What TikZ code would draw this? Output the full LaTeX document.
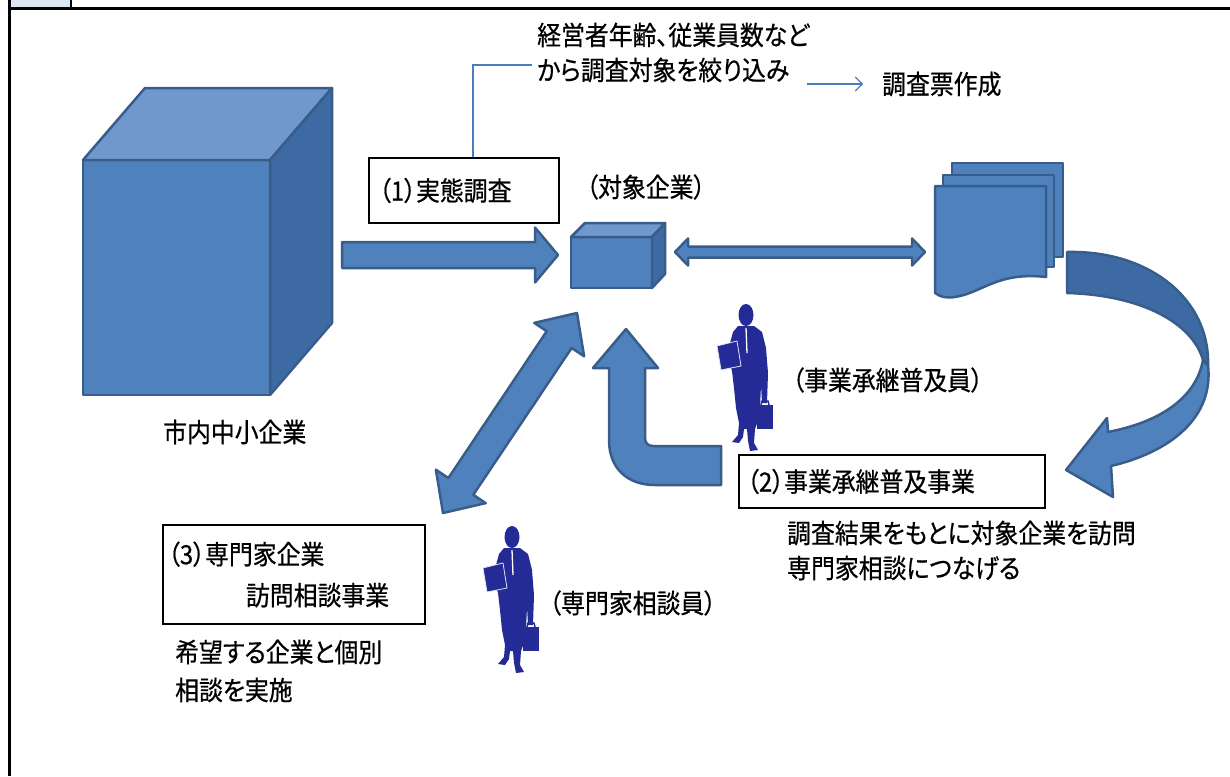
\documentclass[tikz,border=0pt]{standalone}
\usepackage{fontspec}
\usetikzlibrary{calc,positioning,arrows.meta}
\newfontfamily\jpfont[RawFeature=+palt,FakeStretch=0.9,FakeBold=0.6]{Noto Sans CJK JP}
\definecolor{boxblue}{RGB}{79,129,189}
\definecolor{edgeblue}{RGB}{56,93,138}
\definecolor{topblue}{RGB}{112,152,206}
\definecolor{sideblue}{RGB}{62,106,163}
\definecolor{manblue}{RGB}{36,42,150}
\definecolor{tabblue}{RGB}{220,230,242}
\definecolor{lineblue}{RGB}{74,126,187}

% block arrow: start, tip, half shaft, half head, head length
\newcommand{\fatarrow}[5]{%
  \coordinate (fa-b) at ($(#2)!#5!(#1)$);
  \filldraw[blockarrow] ($(#1)!#3!90:(#2)$) -- ($(fa-b)!#3!90:(#2)$)
    -- ($(fa-b)!#4!90:(#2)$) -- (#2) -- ($(fa-b)!#4!-90:(#2)$)
    -- ($(fa-b)!#3!-90:(#2)$) -- ($(#1)!#3!-90:(#2)$) -- cycle;
}
% block arrow with two heads
\newcommand{\fatdarrow}[5]{%
  \coordinate (fa-a) at ($(#1)!#5!(#2)$);
  \coordinate (fa-b) at ($(#2)!#5!(#1)$);
  \filldraw[blockarrow] (#1) -- ($(fa-a)!#4!90:(#2)$) -- ($(fa-a)!#3!90:(#2)$)
    -- ($(fa-b)!#3!-90:(#1)$) -- ($(fa-b)!#4!-90:(#1)$) -- (#2)
    -- ($(fa-b)!#4!90:(#1)$) -- ($(fa-b)!#3!90:(#1)$)
    -- ($(fa-a)!#3!-90:(#2)$) -- ($(fa-a)!#4!-90:(#2)$) -- cycle;
}

\begin{document}
\begin{tikzpicture}[x=1pt,y=-1pt,
    blockarrow/.style={fill=boxblue,draw=edgeblue,line width=2.5pt,line join=round},
    face/.style={draw=edgeblue,line width=2.5pt,line join=round},
    jtext/.style={font=\jpfont\fontsize{26.5}{35}\selectfont,inner sep=0pt,anchor=west,align=left},
    tagbox/.style={draw=black,line width=1.3pt,fill=white,inner ysep=0pt,align=left,
      font=\jpfont\fontsize{26.5}{41}\selectfont},
    man/.pic={
      \fill[manblue] (29,12) ellipse (7.5 and 11);
      \fill[manblue] (21,23) -- (37,23) -- (45,29) -- (49,45) -- (51,70) -- (50,100)
        -- (45,100) -- (44,82) -- (43,105) -- (41,118) -- (38,126) -- (37,140)
        -- (41,147) -- (33,148) -- (31,138) -- (30,126) -- (27,126) -- (26,134)
        -- (22,140) -- (15,139) -- (21,132) -- (22,120) -- (19,105) -- (17,85)
        -- (15,68) -- (12,58) -- (13,40) -- (16,29) -- cycle;
      \draw[white,line width=1.3pt] (29,25) -- (30,50);
      \filldraw[manblue,draw=tabblue,line width=0.8pt] (0,43) -- (20,38) -- (24,63) -- (4,67) -- cycle;
      \fill[manblue] (40,102) rectangle (56,126);
      \draw[manblue,line width=1.5pt] (44,102) -- (45,98) -- (51,98) -- (52,102);
    }]
\useasboundingbox (0,0) rectangle (1230,776);

% frame
\fill[tabblue] (9,0) rectangle (71,9);
\draw[line width=1.2pt] (71,0) -- (71,9);
\draw[line width=3pt] (9,0) -- (9,776);
\draw[line width=3pt] (9,9) -- (1230,9);

% companies in the city
\filldraw[face,fill=boxblue] (83,160) rectangle (270,395);
\filldraw[face,fill=topblue] (83,160) -- (145,88) -- (332,88) -- (270,160) -- cycle;
\filldraw[face,fill=sideblue] (270,160) -- (332,88) -- (332,323) -- (270,395) -- cycle;
\node[jtext] (mktname) at (163,432) {市内中小企業};

% target company
\filldraw[face,fill=boxblue] (571,237) rectangle (652,288);
\filldraw[face,fill=topblue] (571,237) -- (585,223) -- (665,223) -- (652,237) -- cycle;
\filldraw[face,fill=sideblue] (652,237) -- (665,223) -- (665,274) -- (652,288) -- cycle;
\node[jtext] (target) at (586,187) {（対象企業）};

% questionnaire sheets
\filldraw[face,fill=boxblue] (952,163) rectangle (1063,257);
\filldraw[face,fill=boxblue] (943,175) rectangle (1054,267);
\filldraw[face,fill=boxblue] (935,186) -- (1046,186) -- (1046,277)
  .. controls (1000,272) and (985,290) .. (960,296)
  .. controls (948,299) and (940,297) .. (935,293) -- cycle;

\coordinate (mktE) at (342,255);
\coordinate (tgtW) at (558,255);
\coordinate (tgtE) at (675,252);
\coordinate (docW) at (925,252);
\coordinate (tgtS) at (577,313);
\coordinate (expN) at (443,513);
\fatarrow{mktE}{tgtW}{13pt}{27.5pt}{23pt}
\fatdarrow{tgtE}{docW}{5.5pt}{13.5pt}{13pt}
\fatdarrow{expN}{tgtS}{15pt}{30pt}{32pt}

% curved arrow from the sheets
\filldraw[blockarrow] (1203,360) .. controls (1196,398) and (1160,422) .. (1108,432)
  -- (1107,418) -- (1066,470) -- (1113,497) -- (1111,466)
  .. controls (1170,452) and (1214,418) .. (1208,365) -- cycle;
\filldraw[blockarrow,fill=sideblue] (1067,252) .. controls (1150,250) and (1210,300) .. (1208,365)
  -- (1203,360) .. controls (1192,322) and (1140,295) .. (1067,293) -- cycle;

% bent arrow back to the target
\filldraw[blockarrow] (721,446) -- (653,446) .. controls (648,446) and (645,443) .. (645,438)
  -- (645,368) -- (658,368) -- (626,329) -- (593,368) -- (609,368) -- (609,440)
  .. controls (609,468) and (627,485) .. (655,485) -- (721,485) -- cycle;

% (1) survey
\node[tagbox,minimum width=190pt,minimum height=65pt,text width=170pt,inner xsep=10pt]
  (survey) at (464,190.5) {（1）実態調査};
\node[jtext] (filter) at (537,52.5) {経営者年齢、従業員数など\\から調査対象を絞り込み};
\node[jtext] (sheet) at (882,84) {調査票作成};
\coordinate (noteL) at (532,65);
\draw[lineblue,line width=1.5pt] ([xshift=9pt]survey.north) |- (noteL);
\coordinate (cutoff) at (807,84);
\draw[lineblue,line width=1.2pt,-{Straight Barb[length=7pt,width=14pt]}] (cutoff) -- ([xshift=-19pt]sheet.west);

% (2) promotion
\pic at (717,303) {man};
\node[jtext] (promoter) at (792,380) {（事業承継普及員）};
\node[tagbox,minimum width=306pt,minimum height=53pt,text width=290pt,inner xsep=8pt]
  (promo) at (892,481.5) {（2）事業承継普及事業};
\node[jtext] (visit) at (787,550.5) {調査結果をもとに対象企業を訪問\\専門家相談につなげる};

% (3) expert consultation
\pic at (483,525) {man};
\node[jtext] (expert) at (549,603) {（専門家相談員）};
\node[tagbox,minimum width=262pt,minimum height=99pt,text width=252pt,inner xsep=5pt]
  (consult) at (294,574.5) {（3）専門家企業\\\hspace*{78pt}訪問相談事業};
\node[jtext,font=\jpfont\fontsize{26.5}{38}\selectfont] (wish) at (175,671) {希望する企業と個別\\相談を実施};
\end{tikzpicture}
\end{document}
